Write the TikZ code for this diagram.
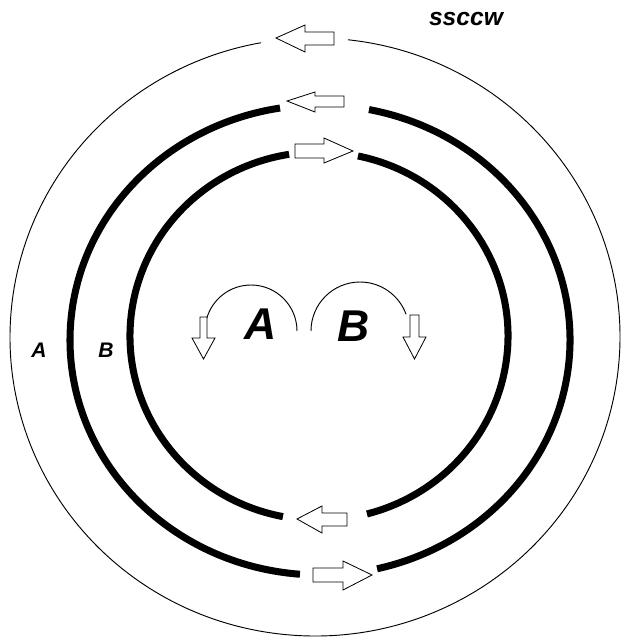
\documentclass[tikz,border=0pt]{standalone}
\usepackage{fontspec}
\setmainfont{Liberation Sans}
\tikzset{
  ring/.style={line width=6pt},
  outerring/.style={line width=0.8pt},
  thinline/.style={line width=0.8pt},
  hollow/.style={draw, line width=0.7pt, fill=white},
  biglbl/.style={inner sep=0pt, font=\fontsize{38}{38}\selectfont\bfseries\itshape},
  smalllbl/.style={inner sep=0pt, font=\fontsize{18}{18}\selectfont\bfseries\itshape},
  titlelbl/.style={inner sep=0pt, font=\fontsize{21}{21}\selectfont\bfseries\itshape}
}
\begin{document}
\begin{tikzpicture}[x=0.03cm, y=-0.03cm]
    \useasboundingbox (0,0) rectangle (624,637);

    % outer ring
    \draw[outerring] (315,337) ++(276.2:305 and 299) arc[start angle=276.2, end angle=619.8, x radius=305, y radius=299];
    % middle ring
    \draw[ring] (320,340) ++(281.3:250 and 235) arc[start angle=281.3, end angle=436.8, x radius=250, y radius=235];
    \draw[ring] (320,340) ++(94.6:250 and 235) arc[start angle=94.6, end angle=260.8, x radius=250, y radius=235];
    % inner ring
    \draw[ring] (319,336) ++(281.9:189 and 184) arc[start angle=281.9, end angle=435.3, x radius=189, y radius=184];
    \draw[ring] (319,336) ++(101:189 and 184) arc[start angle=101, end angle=260.9, x radius=189, y radius=184];

    % block arrows in the gaps
    \draw[hollow] (276,38) -- (305,25) -- (305,32) -- (334,32) -- (334,45) -- (305,45) -- (305,52) -- cycle;
    \draw[hollow] (287,101) -- (315,92) -- (315,96) -- (344,96) -- (344,107) -- (315,107) -- (315,112) -- cycle;
    \draw[hollow] (353,151) -- (324,138) -- (324,144) -- (295,144) -- (295,158) -- (324,158) -- (324,163) -- cycle;
    \draw[hollow] (297,519) -- (322,506) -- (322,513) -- (347,513) -- (347,526) -- (322,526) -- (322,533) -- cycle;
    \draw[hollow] (372,575) -- (343,561) -- (343,568) -- (313,568) -- (313,582) -- (343,582) -- (343,590) -- cycle;

    % turning arrows
    \draw[thinline] (297,331) arc[start angle=0, end angle=-165, radius=46];
    \draw[hollow] (203.5,359) -- (192,338) -- (200,338) -- (200,317) -- (207,317) -- (207,338) -- (215,338) -- cycle;
    \draw[thinline] (311,331) arc[start angle=180, end angle=340, radius=49];
    \draw[hollow] (414.5,359) -- (403,337) -- (410,337) -- (410,315) -- (419,315) -- (419,337) -- (426,337) -- cycle;

    \node[biglbl] (bigA) at (261,324) {A};
    \node[biglbl] (bigB) at (354,326) {B};
    \node[smalllbl] (ringA) at (39,350) {A};
    \node[smalllbl] (ringB) at (106,350) {B};
    \node[titlelbl] (title) at (466,18.5) {ssccw};
\end{tikzpicture}
\end{document}
